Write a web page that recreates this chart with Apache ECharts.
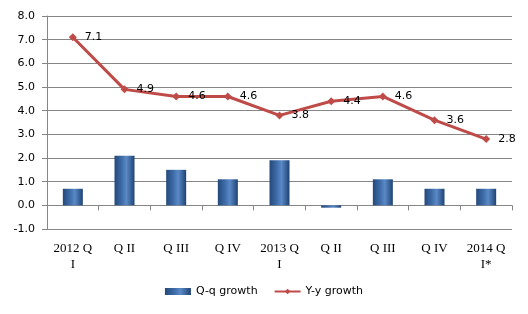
<!DOCTYPE html>
<html><head><meta charset="utf-8">
<script src="https://cdn.jsdelivr.net/npm/echarts@6/dist/echarts.min.js"></script>
<style>html,body{margin:0;padding:0;background:#fff}#c{width:528px;height:314px}</style>
</head><body><div id="c"></div>
<script>
var categories = ['2012 Q\nI','Q II','Q III','Q IV','2013 Q\nI','Q II','Q III','Q IV','2014 Q\nI*'];
var qqGrowth = [0.7, 2.1, 1.5, 1.1, 1.9, -0.1, 1.1, 0.7, 0.7];
var yyGrowth = [7.1, 4.9, 4.6, 4.6, 3.8, 4.4, 4.6, 3.6, 2.8];
var yTicks = { min: -1, max: 8, interval: 1 };

var font = 'DejaVu Sans, Verdana, sans-serif';
var serif = 'Liberation Serif, Times New Roman, serif';
var barGrad = new echarts.graphic.LinearGradient(0,0,1,0,[
  {offset:0,color:'#24497A'},{offset:0.35,color:'#3D6BA8'},{offset:0.6,color:'#5A89C6'},{offset:1,color:'#1E4374'}]);
var chart = echarts.init(document.getElementById('c'), null, {renderer:'canvas'});
chart.setOption({
  animation:false,
  backgroundColor:'#fff',
  grid:{left:47,right:16,top:16,bottom:85,containLabel:false},
  legend:{
    bottom:12, left:'center', itemGap:16, itemWidth:26, itemHeight:7,
    textStyle:{fontFamily:font,fontSize:11,color:'#000'},
    data:[{name:'Q-q growth',icon:'rect'},{name:'Y-y growth'}]
  },
  xAxis:[{
    type:'category', data:categories, position:'bottom',
    axisLine:{onZero:true,lineStyle:{color:'#868686',width:1}},
    axisTick:{show:true,length:5,lineStyle:{color:'#868686'}},
    axisLabel:{show:false}
  },{
    type:'category', data:categories, position:'bottom',
    axisLine:{show:false,onZero:false}, axisTick:{show:false},
    axisLabel:{show:true,margin:12,fontFamily:serif,fontSize:13,color:'#000',lineHeight:16,interval:0}
  }],
  yAxis:{
    type:'value', min:yTicks.min, max:yTicks.max, interval:yTicks.interval,
    axisLine:{show:true,lineStyle:{color:'#868686'}},
    axisTick:{show:true,length:5,lineStyle:{color:'#868686'}},
    axisLabel:{margin:12,fontFamily:font,fontSize:11,color:'#000',formatter:function(v){return v.toFixed(1);}},
    splitLine:{lineStyle:{color:'#868686',width:1}}
  },
  series:[{
    name:'Q-q growth', type:'bar', xAxisIndex:0, data:qqGrowth, barWidth:20,
    itemStyle:{color:barGrad}
  },{
    name:'Y-y growth', type:'line', xAxisIndex:0, data:yyGrowth,
    symbol:'diamond', symbolSize:8,
    lineStyle:{color:'#BE4B48',width:3}, itemStyle:{color:'#BE4B48'},
    label:{show:true,position:'right',distance:8,fontFamily:font,fontSize:11,color:'#000',
      formatter:function(p){return p.value.toFixed(1);}}
  }]
});
</script></body></html>
